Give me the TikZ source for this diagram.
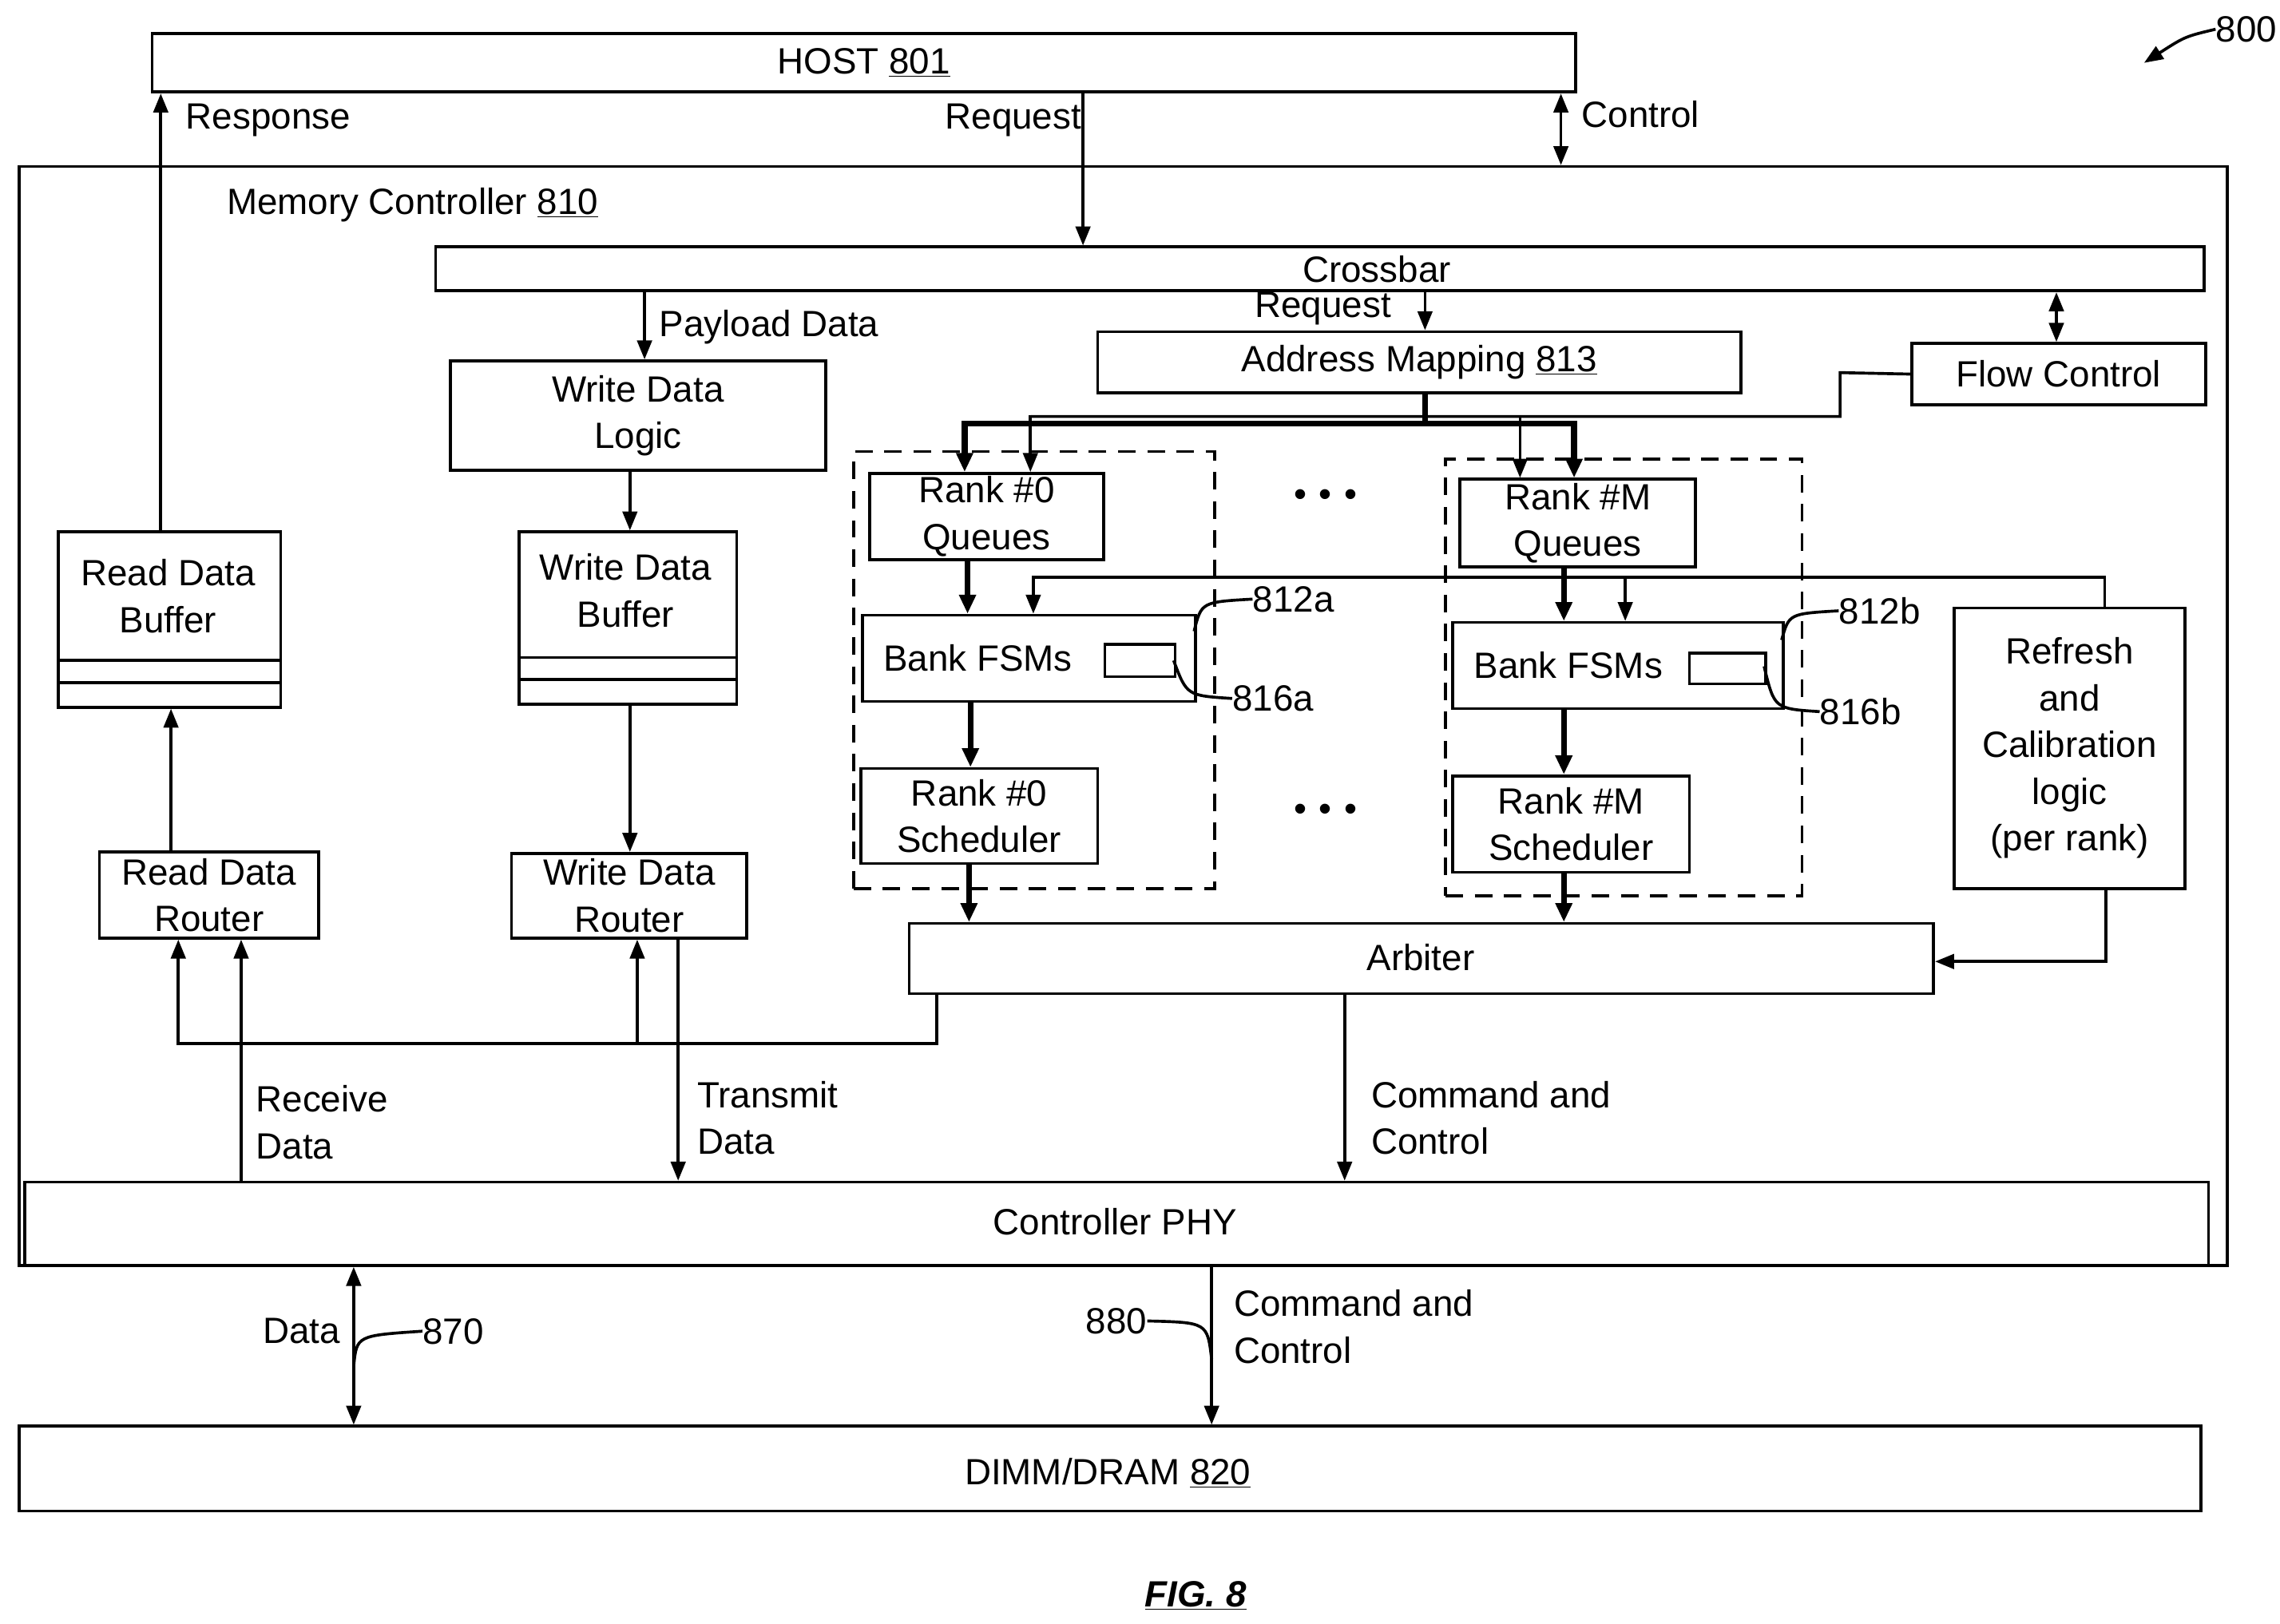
\documentclass[tikz,border=0pt]{standalone}
\usepackage{fontspec}
\setmainfont{Liberation Sans}
\usetikzlibrary{arrows.meta,calc}
\newcommand\mybox[6]{\node[box,anchor=north west,minimum width={(#4-#2)*1pt},minimum height={(#5-#3)*1pt}] (#1) at (#2,#3) {#6};}
\begin{document}
\begin{tikzpicture}[x=1pt,y=-1pt,
  box/.style={draw,line width=2pt,inner sep=0pt,align=center,font=\fontsize{25}{32}\selectfont},
  lbl/.style={inner sep=0pt,align=left,font=\fontsize{25}{32}\selectfont},
  arr/.style={line width=2pt,-{Triangle[length=13pt,width=10pt]}},
  darr/.style={line width=2pt,{Triangle[length=13pt,width=10pt]}-{Triangle[length=13pt,width=10pt]}},
  tarr/.style={line width=4pt,-{Triangle[length=13pt,width=11pt]}},
  ln/.style={line width=2pt},
  dsh/.style={draw,line width=2pt,dash pattern=on 12pt off 8pt}]
\useasboundingbox (0,0) rectangle (1560,1111);
\mybox{host}{103}{22}{1077}{62}{HOST \underline{801}}
\mybox{mc}{12}{113}{1523}{865}{}
\node[lbl,anchor=west] (mclab) at (155,140) {Memory Controller \underline{810}};
\node[lbl,anchor=east] (n800) at (1558,20) {800};
\coordinate (a800) at (1467,43);
\draw[arr] (n800.west) .. controls (1495,25) .. (a800);
\mybox{xbar}{297}{168}{1507}{198}{}
\node[lbl] (xbt) at (942,184) {Crossbar};
\mybox{wdl}{307}{246}{564}{321}{Write Data\\Logic}
\mybox{am}{750}{226}{1190}{268}{Address Mapping \underline{813}}
\mybox{fc}{1307}{234}{1508}{276}{Flow Control}
\node[dsh,minimum width=247pt,minimum height=299pt,anchor=north west] (d0) at (583,308) {};
\node[dsh,minimum width=244pt,minimum height=299pt,anchor=north west] (dm) at (988,313) {};
\mybox{q0}{594}{323}{754}{382}{Rank \#0\\Queues}
\mybox{qm}{998}{327}{1159}{387}{Rank \#M\\Queues}
\mybox{b0}{589}{420}{817}{479}{\hspace*{-70pt}Bank FSMs}
\mybox{bm}{993}{425}{1219}{484}{\hspace*{-68pt}Bank FSMs}
\mybox{s0}{755}{440}{803}{462}{}
\mybox{sm}{1155}{446}{1207}{467}{}
\mybox{r0}{588}{525}{750}{590}{Rank \#0\\Scheduler}
\mybox{rm}{993}{530}{1155}{596}{Rank \#M\\Scheduler}
\mybox{ref}{1336}{415}{1494}{607}{Refresh\\and\\Calibration\\logic\\(per rank)}
\mybox{arb}{621}{631}{1322}{679}{}
\node[lbl] (arbt) at (972,655) {Arbiter};
\mybox{rdb}{39}{363}{191}{483}{}
\node[lbl,align=center] (rdbt) at (115,408) {Read Data\\Buffer};
\mybox{wdb}{354}{363}{503}{481}{}
\node[lbl,align=center] (wdbt) at (428,404) {Write Data\\Buffer};
\draw[ln] (rdb.west |- 0,452) -- (rdb.east |- 0,452);
\draw[ln] (rdb.west |- 0,467) -- (rdb.east |- 0,467);
\draw[ln] (wdb.west |- 0,450) -- (wdb.east |- 0,450);
\draw[ln] (wdb.west |- 0,465) -- (wdb.east |- 0,465);
\mybox{rdr}{67}{582}{217}{641}{Read Data\\Router}
\mybox{wdr}{349}{583}{510}{641}{Write Data\\Router}
\mybox{phy}{16}{808}{1510}{865}{}
\node[lbl] (phyt) at (763,836) {Controller PHY};
\mybox{dimm}{12}{975}{1505}{1033}{}
\node[lbl] (dimt) at (758,1008) {DIMM/DRAM \underline{820}};
\node[lbl,anchor=center,font=\fontsize{25}{32}\selectfont\bfseries\itshape] (fig) at (818,1092) {\underline{FIG. 8}};
% host connections
\draw[arr] (110,363) -- (110,62 |- host.south);
\node[lbl,anchor=west] (resp) at (127,82) {Response};
\draw[arr] (741,62 |- host.south) -- (741,165 |- xbar.north);
\node[lbl,anchor=east] (req1) at (740,82) {Request};
\draw[darr] (1068,62 |- host.south) -- (1068,113 |- mc.north);
\node[lbl,anchor=west] (ctl) at (1082,78) {Control};
\draw[arr] (441,198 |- xbar.south) -- (441,246 |- wdl.north);
\node[lbl,anchor=west] (pay) at (451,224) {Payload Data};
\draw[arr] (975,198 |- xbar.south) -- (975,226 |- am.north);
\node[lbl,anchor=east] (req2) at (952,211) {Request};
\draw[darr] (1407,198 |- xbar.south) -- (1407,234 |- fc.north);
% bus
\draw[line width=4pt] (975,268 |- am.south) -- (975,290);
\draw[line width=4pt] (660,290) -- (1077,290);
\draw[tarr] (660,288) -- (660,323 |- q0.north);
\draw[tarr] (1077,288) -- (1077,327 |- qm.north);
\draw[ln] (fc.west) -- (1259,255) -- (1259,285) -- (705,285);
\draw[arr] (705,284) -- (705,323 |- q0.north);
\draw[arr] (1040,284) -- (1040,327 |- qm.north);
\draw[tarr] (662,382 |- q0.south) -- (662,420 |- b0.north);
\draw[tarr] (1070,387 |- qm.south) -- (1070,425 |- bm.north);
\draw[ln] (1440,415 |- ref.north) -- (1440,395) -- (707,395);
\draw[arr] (707,394) -- (707,420 |- b0.north);
\draw[arr] (1112,394) -- (1112,425 |- bm.north);
\draw[tarr] (664,479 |- b0.south) -- (664,525 |- r0.north);
\draw[tarr] (1070,484 |- bm.south) -- (1070,530 |- rm.north);
\draw[tarr] (663,590 |- r0.south) -- (663,631 |- arb.north);
\draw[tarr] (1070,596 |- rm.south) -- (1070,631 |- arb.north);
\node[lbl] (dots1) at (907,341) {\textbullet\,\,\textbullet\,\,\textbullet};
\node[lbl] (dots2) at (907,556) {\textbullet\,\,\textbullet\,\,\textbullet};
% labels with leaders
\node[lbl,anchor=west] (l812a) at (857,410) {812a};
\draw[ln] (817,432) .. controls (822,412) .. (l812a.west);
\node[lbl,anchor=west] (l816a) at (843,478) {816a};
\draw[ln] (803,452) .. controls (812,476) .. (l816a.west);
\node[lbl,anchor=west] (l812b) at (1258,418) {812b};
\draw[ln] (1219,438) .. controls (1224,420) .. (l812b.west);
\node[lbl,anchor=west] (l816b) at (1245,487) {816b};
\draw[ln] (1207,456) .. controls (1214,485) .. (l816b.west);
% refresh to arbiter
\draw[arr] (1441,607 |- ref.south) -- (1441,658) -- (1322,658 -| arb.east);
\draw[arr] (920,679 |- arb.south) -- (920,808 |- phy.north);
\node[lbl,anchor=west] (cc1) at (938,765) {Command and\\Control};
% arbiter to routers
\draw[ln] (641,679 |- arb.south) -- (641,714) -- (122,714);
\draw[arr] (122,715) -- (122,641 |- rdr.south);
\draw[arr] (436,715) -- (436,641 |- wdr.south);
\draw[arr] (431,321 |- wdl.south) -- (431,363 |- wdb.north);
\draw[arr] (431,481 |- wdb.south) -- (431,583 |- wdr.north);
\draw[arr] (117,582 |- rdr.north) -- (117,483 |- rdb.south);
\draw[arr] (165,808 |- phy.north) -- (165,641 |- rdr.south);
\node[lbl,anchor=west] (rx) at (175,768) {Receive\\Data};
\draw[arr] (464,641 |- wdr.south) -- (464,808 |- phy.north);
\node[lbl,anchor=west] (tx) at (477,765) {Transmit\\Data};
% phy to dimm
\draw[darr] (242,865 |- phy.south) -- (242,975 |- dimm.north);
\node[lbl,anchor=east] (dat) at (233,911) {Data};
\node[lbl,anchor=west] (l870) at (289,911) {870};
\draw[ln] (242,935) .. controls (244,914) .. (l870.west);
\draw[arr] (829,865 |- phy.south) -- (829,975 |- dimm.north);
\node[lbl,anchor=west] (cc2) at (844,908) {Command and\\Control};
\node[lbl,anchor=east] (l880) at (785,904) {880};
\draw[ln] (l880.east) .. controls (826,905) .. (829,930);
\end{tikzpicture}
\end{document}
